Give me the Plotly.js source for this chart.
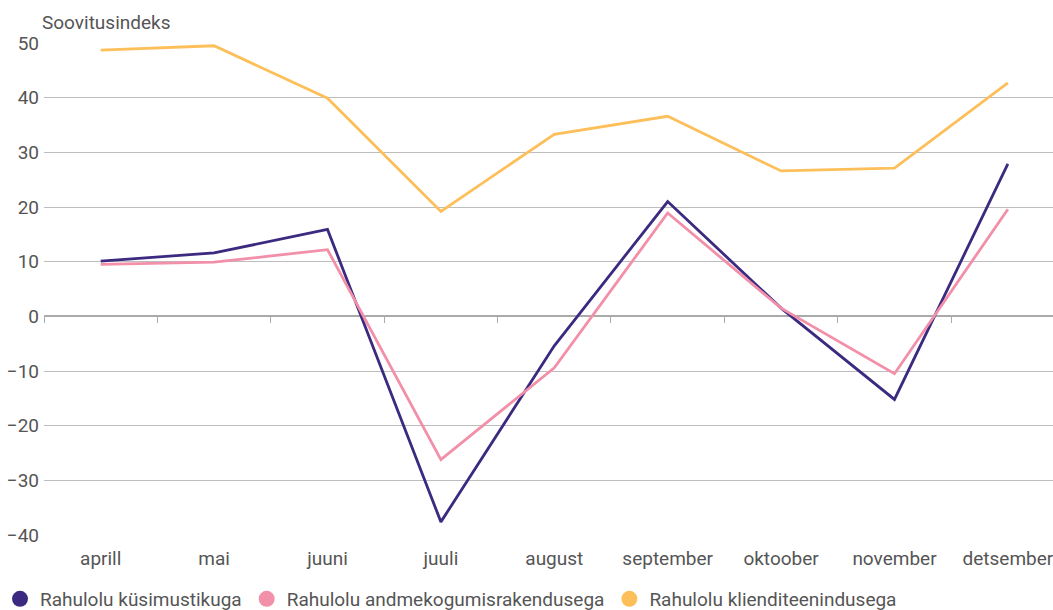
<!DOCTYPE html>
<html>
<head>
<meta charset="utf-8">
<script src="https://cdn.plot.ly/plotly-3.0.1.min.js"></script>
<style>html,body{margin:0;padding:0;background:#fff;}#chart{width:1053px;height:610px;}</style>
</head>
<body>
<div id="chart"></div>
<script>
const months = ["aprill","mai","juuni","juuli","august","september","oktoober","november","detsember"];
const kusimustik = [10.1, 11.6, 15.9, -37.6, -5.4, 21.0, 1.5, -15.2, 27.9];
const rakendus = [9.5, 9.9, 12.2, -26.2, -9.4, 18.9, 1.5, -10.5, 19.6];
const klienditeenindus = [48.7, 49.5, 39.9, 19.2, 33.3, 36.6, 26.6, 27.1, 42.7];
const seriesNames = ["Rahulolu küsimustikuga","Rahulolu andmekogumisrakendusega","Rahulolu klienditeenindusega"];
const colors = ["#3c2a80","#f28fa9","#fdbf5a"];
const yTicks = [-40,-30,-20,-10,0,10,20,30,40,50];

const seriesData = [kusimustik, rakendus, klienditeenindus];
const traces = [];
seriesData.forEach((vals, i) => {
  traces.push({x: months, y: vals, type: 'scatter', mode: 'lines', name: seriesNames[i],
    line: {color: colors[i], width: 2.8}, showlegend: false, legendgroup: 'g'+i, hoverinfo: 'x+y'});
});
seriesData.forEach((vals, i) => {
  traces.push({x: [null], y: [null], type: 'scatter', mode: 'markers', name: seriesNames[i],
    marker: {color: colors[i], size: 16, symbol: 'circle'}, showlegend: true, legendgroup: 'g'+i});
});
// invisible trace for zero-line tick axis
traces.push({x: months, y: kusimustik, xaxis: 'x2', type: 'scatter', mode: 'lines',
  line: {width: 0, color: 'rgba(0,0,0,0)'}, showlegend: false, hoverinfo: 'skip'});

const layout = {
  width: 1053, height: 610,
  margin: {l: 44, r: 0, t: 43, b: 75, autoexpand: false},
  paper_bgcolor: '#fff', plot_bgcolor: '#fff',
  font: {family: 'Roboto, sans-serif', size: 19, color: '#555'},
  title: {text: 'Soovitusindeks', x: 42/1053, xref: 'container', xanchor: 'left',
    y: 1 - 22/610, yref: 'container', yanchor: 'middle', font: {size: 19, color: '#555'}},
  xaxis: {type: 'category', categoryorder: 'array', categoryarray: months,
    range: [-0.5, 8.398], showgrid: false, zeroline: false, showline: false,
    ticks: '', tickfont: {size: 19, color: '#555'}, ticklabelstandoff: 10, fixedrange: true},
  xaxis2: {type: 'category', categoryorder: 'array', categoryarray: months, overlaying: 'x',
    matches: 'x', anchor: 'free', position: 40/90, side: 'bottom',
    showgrid: false, zeroline: false, showline: false, showticklabels: false,
    ticks: 'outside', tickson: 'boundaries', ticklen: 6, tickcolor: '#aaa', tickwidth: 1},
  yaxis: {range: [-40, 50], tickvals: yTicks, showgrid: true, gridcolor: '#bdbdbd', gridwidth: 1,
    zeroline: true, zerolinecolor: '#aaa', zerolinewidth: 1.5, showline: false, ticks: '',
    tickfont: {size: 19, color: '#555'}, ticklabelstandoff: 4, fixedrange: true},
  legend: {orientation: 'h', x: -44/1009, xanchor: 'left', y: -(580-535)/492, yanchor: 'top',
    font: {size: 19, color: '#555'}, itemclick: false, itemdoubleclick: false,
    tracegroupgap: 0, itemwidth: 30},
  showlegend: true,
  hovermode: 'closest'
};

Plotly.newPlot('chart', traces, layout, {displayModeBar: false});
</script>
</body>
</html>
